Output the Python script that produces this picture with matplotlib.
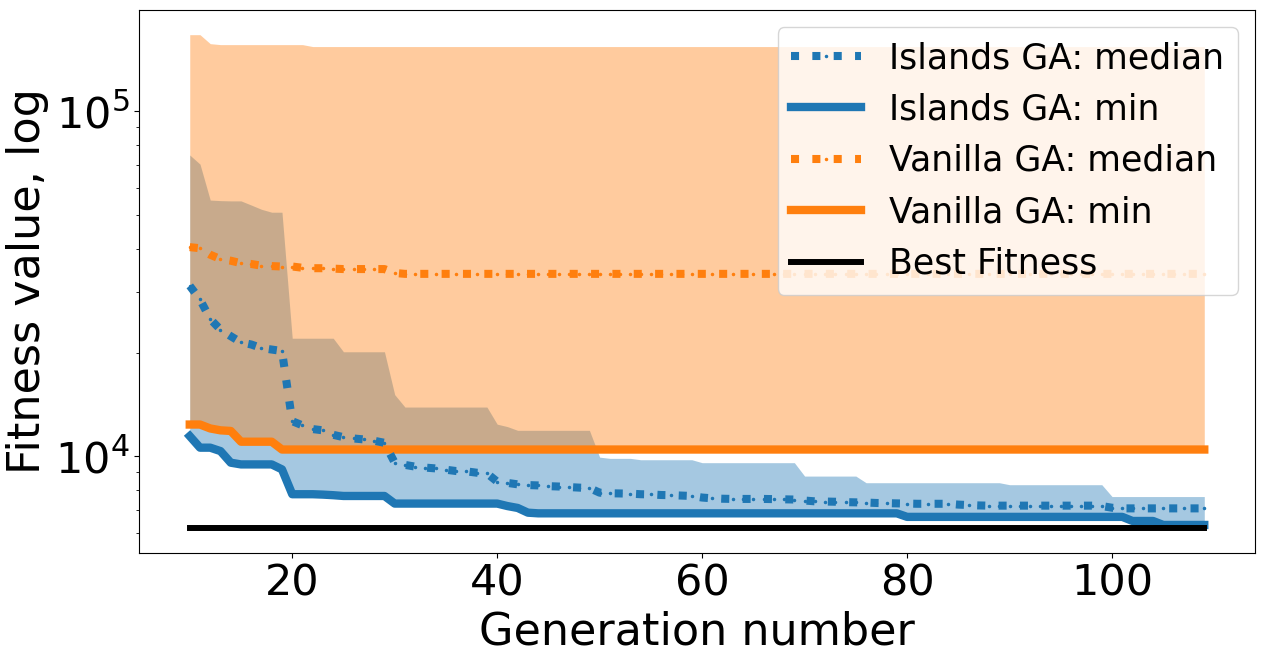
import matplotlib
matplotlib.use('Agg')
import matplotlib.pyplot as plt


# generations shown on the x axis
gens = list(range(10, 110))

# islands GA (one per generation)
isl_median = [
    3.12e4, 2.85e4, 2.50e4, 2.33e4, 2.23e4, 2.14e4, 2.11e4, 2.06e4, 2.04e4, 2.02e4,
    1.265e4, 1.23e4, 1.20e4, 1.19e4, 1.155e4, 1.137e4, 1.127e4, 1.12e4, 1.11e4, 1.095e4,
    9.59e3, 9.45e3, 9.34e3, 9.28e3, 9.23e3, 9.15e3, 9.07e3, 9.05e3, 8.97e3, 8.93e3,
    8.45e3, 8.38e3, 8.30e3, 8.26e3, 8.24e3, 8.20e3, 8.18e3, 8.15e3, 8.12e3, 8.10e3,
    7.85e3, 7.82e3, 7.81e3, 7.80e3, 7.77e3, 7.76e3, 7.73e3, 7.72e3, 7.70e3, 7.68e3,
    7.60e3, 7.56e3, 7.54e3, 7.53e3, 7.53e3, 7.53e3, 7.53e3, 7.52e3, 7.51e3, 7.50e3,
    7.45e3, 7.41e3, 7.40e3, 7.39e3, 7.37e3, 7.36e3, 7.35e3, 7.33e3, 7.32e3, 7.31e3,
    7.30e3, 7.29e3, 7.29e3, 7.29e3, 7.29e3, 7.25e3, 7.23e3, 7.21e3, 7.20e3, 7.20e3,
    7.20e3, 7.20e3, 7.20e3, 7.20e3, 7.20e3, 7.20e3, 7.20e3, 7.20e3, 7.20e3, 7.18e3,
    7.10e3, 7.07e3, 7.07e3, 7.07e3, 7.07e3, 7.07e3, 7.07e3, 7.07e3, 7.07e3, 7.07e3,
]
isl_min = [
    1.145e4, 1.06e4, 1.06e4, 1.036e4, 9.59e3, 9.48e3, 9.48e3, 9.48e3, 9.48e3, 9.17e3,
    7.77e3, 7.77e3, 7.77e3, 7.75e3, 7.72e3, 7.68e3, 7.68e3, 7.68e3, 7.68e3, 7.68e3,
    7.30e3, 7.30e3, 7.30e3, 7.30e3, 7.30e3, 7.30e3, 7.30e3, 7.30e3, 7.30e3, 7.30e3,
    7.30e3, 7.18e3, 7.09e3, 6.87e3, 6.84e3, 6.84e3, 6.84e3, 6.84e3, 6.84e3, 6.84e3,
    6.84e3, 6.84e3, 6.84e3, 6.84e3, 6.84e3, 6.84e3, 6.84e3, 6.84e3, 6.84e3, 6.84e3,
    6.84e3, 6.84e3, 6.84e3, 6.84e3, 6.84e3, 6.84e3, 6.84e3, 6.84e3, 6.84e3, 6.84e3,
    6.84e3, 6.84e3, 6.84e3, 6.84e3, 6.84e3, 6.84e3, 6.84e3, 6.84e3, 6.84e3, 6.84e3,
    6.68e3, 6.68e3, 6.68e3, 6.68e3, 6.68e3, 6.68e3, 6.68e3, 6.68e3, 6.68e3, 6.68e3,
    6.68e3, 6.68e3, 6.68e3, 6.68e3, 6.68e3, 6.68e3, 6.68e3, 6.68e3, 6.68e3, 6.68e3,
    6.68e3, 6.68e3, 6.50e3, 6.50e3, 6.50e3, 6.33e3, 6.33e3, 6.33e3, 6.33e3, 6.33e3,
]
isl_max = [
    7.47e4, 7.03e4, 5.53e4, 5.51e4, 5.50e4, 5.50e4, 5.35e4, 5.20e4, 5.10e4, 5.10e4,
    2.20e4, 2.20e4, 2.20e4, 2.20e4, 2.20e4, 2.01e4, 2.01e4, 2.01e4, 2.01e4, 2.01e4,
    1.51e4, 1.39e4, 1.39e4, 1.39e4, 1.39e4, 1.39e4, 1.39e4, 1.39e4, 1.39e4, 1.39e4,
    1.24e4, 1.22e4, 1.19e4, 1.19e4, 1.19e4, 1.19e4, 1.19e4, 1.19e4, 1.19e4, 1.19e4,
    9.95e3, 9.87e3, 9.87e3, 9.87e3, 9.78e3, 9.78e3, 9.78e3, 9.78e3, 9.78e3, 9.78e3,
    9.59e3, 9.59e3, 9.59e3, 9.59e3, 9.59e3, 9.59e3, 9.59e3, 9.59e3, 9.59e3, 9.59e3,
    8.77e3, 8.77e3, 8.77e3, 8.77e3, 8.77e3, 8.77e3, 8.39e3, 8.39e3, 8.39e3, 8.39e3,
    8.39e3, 8.39e3, 8.39e3, 8.39e3, 8.39e3, 8.39e3, 8.39e3, 8.39e3, 8.39e3, 8.39e3,
    8.28e3, 8.28e3, 8.28e3, 8.28e3, 8.28e3, 8.28e3, 8.28e3, 8.28e3, 8.28e3, 8.28e3,
    7.65e3, 7.65e3, 7.65e3, 7.65e3, 7.65e3, 7.65e3, 7.65e3, 7.65e3, 7.65e3, 7.65e3,
]

# vanilla GA
van_median = [
    4.04e4, 4.01e4, 3.84e4, 3.73e4, 3.69e4, 3.63e4, 3.61e4, 3.57e4, 3.56e4, 3.55e4,
    3.55e4, 3.52e4, 3.51e4, 3.51e4, 3.50e4, 3.49e4, 3.49e4, 3.49e4, 3.49e4, 3.49e4,
    3.40e4, 3.38e4, 3.38e4, 3.38e4, 3.38e4, 3.38e4, 3.38e4, 3.38e4, 3.38e4, 3.38e4,
    3.38e4, 3.38e4, 3.38e4, 3.38e4, 3.38e4, 3.38e4, 3.38e4, 3.38e4, 3.38e4, 3.38e4,
    3.38e4, 3.38e4, 3.38e4, 3.38e4, 3.38e4, 3.38e4, 3.38e4, 3.38e4, 3.38e4, 3.38e4,
    3.38e4, 3.38e4, 3.38e4, 3.38e4, 3.38e4, 3.38e4, 3.38e4, 3.38e4, 3.38e4, 3.38e4,
    3.38e4, 3.38e4, 3.38e4, 3.38e4, 3.38e4, 3.38e4, 3.38e4, 3.38e4, 3.38e4, 3.38e4,
    3.38e4, 3.38e4, 3.38e4, 3.38e4, 3.38e4, 3.38e4, 3.38e4, 3.38e4, 3.38e4, 3.38e4,
    3.38e4, 3.38e4, 3.38e4, 3.38e4, 3.38e4, 3.38e4, 3.38e4, 3.38e4, 3.38e4, 3.38e4,
    3.38e4, 3.38e4, 3.38e4, 3.38e4, 3.38e4, 3.38e4, 3.38e4, 3.38e4, 3.38e4, 3.38e4,
]
van_min = [
    1.237e4, 1.237e4, 1.205e4, 1.19e4, 1.185e4, 1.103e4, 1.103e4, 1.103e4, 1.103e4, 1.047e4,
] + [1.047e4] * 90
van_max = [
    1.667e5, 1.667e5, 1.57e5, 1.56e5, 1.56e5, 1.56e5, 1.56e5, 1.56e5, 1.56e5, 1.56e5,
    1.56e5, 1.56e5,
] + [1.54e5] * 88

best_fitness = [6.19e3] * 100


fig, ax = plt.subplots(figsize=(12.65, 6.58), dpi=100)
fig.subplots_adjust(left=0.1099, right=0.9921, top=0.9848, bottom=0.1596)

ax.fill_between(gens, isl_min, isl_max, color='C0', alpha=0.4, lw=0)
ax.fill_between(gens, van_min, van_max, color='C1', alpha=0.4, lw=0)

ax.plot(gens, isl_median, ':', color='C0', lw=5.8, marker='.', ms=3,
        label='Islands GA: median', zorder=4)
ax.plot(gens, isl_min, '-', color='C0', lw=6, label='Islands GA: min', zorder=4)
ax.plot(gens, van_median, ':', color='C1', lw=5.8, marker='.', ms=3,
        label='Vanilla GA: median', zorder=3)
ax.plot(gens, van_min, '-', color='C1', lw=6, label='Vanilla GA: min', zorder=3)
ax.plot(gens, best_fitness, '-', color='k', lw=4.3, label='Best Fitness', zorder=5)

ax.set_yscale('log')
ax.set_xlabel('Generation number', fontsize=32)
ax.set_ylabel('Fitness value, log', fontsize=32)
ax.tick_params(axis='both', which='major', labelsize=31)
ax.legend(loc='upper right', fontsize=25)

fig.savefig('out.png', dpi=100)
